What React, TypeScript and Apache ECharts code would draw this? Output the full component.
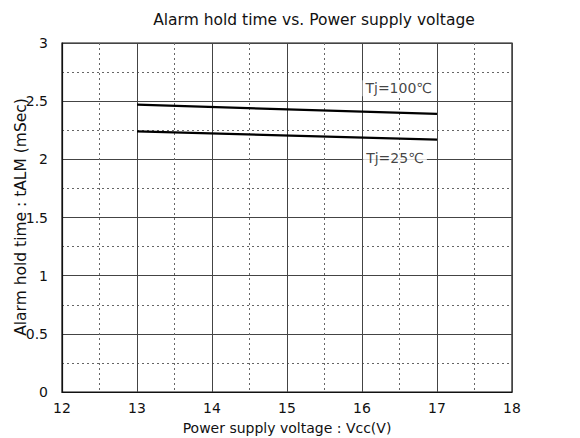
import React, { useEffect, useRef } from "react";
import * as echarts from "echarts";

const title = "Alarm hold time vs. Power supply voltage";
const xName = "Power supply voltage : Vcc(V)";
const yName = "Alarm hold time : tALM (mSec)";
const vcc = [13, 17];
const tj100 = [2.47, 2.39];
const tj25 = [2.24, 2.17];
const curveLabels = ["Tj=100℃", "Tj=25℃"];
const labelX = [16.49, 16.44];
const labelY = [2.61, 2.01];

const FONT = "DejaVu Sans";

export default function App() {
  const ref = useRef<HTMLDivElement>(null);
  useEffect(() => {
    const chart = echarts.init(ref.current!, null, { renderer: "svg" });
    chart.setOption({
      animation: false,
      backgroundColor: "#fff",
      title: {
        text: title,
        left: 309,
        textAlign: "center",
        top: 7,
        textStyle: { fontFamily: FONT, fontSize: 15.5, fontWeight: "normal", color: "#111" },
      },
      graphic: [
        {
          type: "text",
          x: 21,
          y: 217,
          rotation: Math.PI / 2,
          style: {
            text: yName,
            fontFamily: FONT,
            fontSize: 15.5,
            fill: "#111",
            align: "center",
            verticalAlign: "middle",
          },
        },
      ],
      grid: {
        left: 62, right: 68, top: 43, bottom: 46,
        outerBoundsMode: "none",
        containLabel: false,
        show: true, borderColor: "#111", borderWidth: 1.2,
      },
      xAxis: {
        type: "value", min: 12, max: 18, interval: 1,
        name: xName, nameLocation: "middle", nameGap: 29,
        nameTextStyle: { fontFamily: FONT, fontSize: 14, color: "#111" },
        axisLine: { show: true, lineStyle: { color: "#111", width: 1.2 } },
        axisTick: { show: false },
        axisLabel: { fontFamily: FONT, fontSize: 14, color: "#111", margin: 9 },
        splitLine: { show: true, lineStyle: { color: "#444", width: 1 } },
        minorTick: { show: false, splitNumber: 2 },
        minorSplitLine: { show: true, lineStyle: { color: "#666", type: [2, 3], width: 1 } },
      },
      yAxis: {
        type: "value", min: 0, max: 3, interval: 0.5,
        axisLine: { show: true, lineStyle: { color: "#111", width: 1.2 } },
        axisTick: { show: false },
        axisLabel: { fontFamily: FONT, fontSize: 14, color: "#111", margin: 14 },
        splitLine: { show: true, lineStyle: { color: "#444", width: 1 } },
        minorTick: { show: false, splitNumber: 2 },
        minorSplitLine: { show: true, lineStyle: { color: "#666", type: [2, 3], width: 1 } },
      },
      series: [
        {
          type: "line", data: vcc.map((v, i) => [v, tj100[i]]),
          symbol: "none", lineStyle: { color: "#000", width: 2.2 },
        },
        {
          type: "line", data: vcc.map((v, i) => [v, tj25[i]]),
          symbol: "none", lineStyle: { color: "#000", width: 2.2 },
        },
        {
          type: "scatter", symbolSize: 0, z: 5,
          data: curveLabels.map((t, i) => ({ value: [labelX[i], labelY[i]], name: t })),
          label: {
            show: true, position: "inside", formatter: (p: any) => p.name,
            fontFamily: FONT, fontSize: 14, color: "#111",
            backgroundColor: "#fff", padding: [1, 3],
          },
        },
      ],
    });
    return () => chart.dispose();
  }, []);
  return (
    <div
      ref={ref}
      style={{ position: "fixed", left: 0, top: 0, width: 580, height: 438 }}
    />
  );
}
